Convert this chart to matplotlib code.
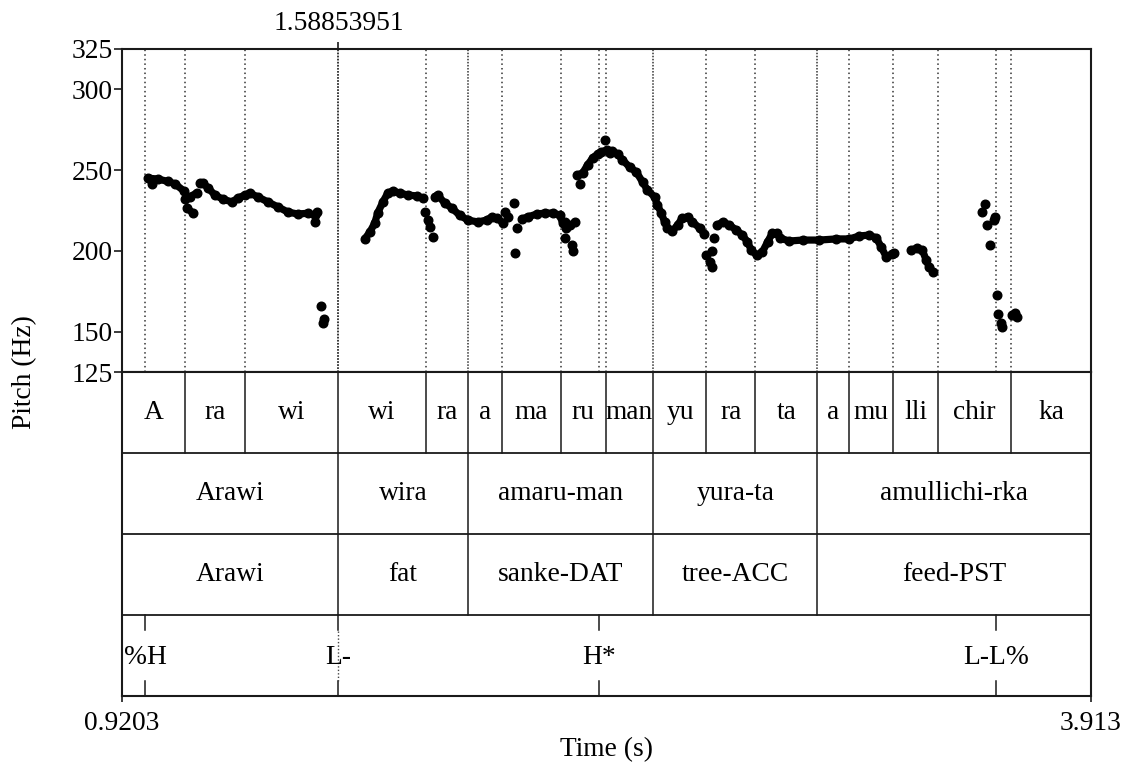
import numpy as np
import matplotlib
matplotlib.use("Agg")
import matplotlib.pyplot as plt

plt.rcParams['font.family'] = ['Liberation Serif', 'DejaVu Serif']

nan = np.nan

# pitch track (s, Hz), nan = break between voiced stretches
track_t = [1.001, 1.031, 1.062, 1.084, 1.112, nan,
           1.115, 1.130, 1.152, nan,
           1.121, 1.139, nan,
           1.161, 1.170, 1.186, 1.207, 1.232, 1.260, 1.278, 1.300, 1.315, 1.340,
           1.371, 1.402, 1.432, 1.463, 1.494, 1.516, 1.522, nan,
           1.670, 1.686, 1.701, 1.710, 1.726, 1.741, 1.757, 1.778, 1.803, 1.831,
           1.849, nan,
           1.886, 1.895, 1.917, 1.939, 1.963, 1.988, 2.019, 2.047, 2.062, 2.080,
           2.096, nan,
           2.155, 2.173, 2.201, 2.226, 2.250, 2.272, 2.281, nan,
           2.327, 2.343, 2.358, 2.374, 2.389, 2.401, 2.417, 2.426, 2.435, 2.451,
           2.466, 2.488, 2.509, 2.528, 2.543, 2.565, 2.574, 2.586, 2.596, 2.605,
           2.620, 2.636, 2.651, 2.667, 2.682, 2.704, 2.719, nan,
           2.759, 2.775, 2.796, 2.818, 2.836, 2.852, 2.864, 2.880, 2.898, 2.914,
           2.929, 2.944, 2.951, 2.981, 3.022, 3.074, 3.126, 3.167, 3.197, 3.228,
           3.250, 3.265, 3.281, 3.299, 3.305, nan,
           3.358, 3.376, 3.392, 3.404, 3.413, 3.426]
track_f = [245.0, 244.5, 243.0, 241.5, 237.0, nan,
           232.0, 233.5, 236.0, nan,
           226.5, 223.5, nan,
           242.0, 242.0, 239.0, 234.6, 232.0, 230.3, 232.7, 234.6, 235.8, 233.4,
           230.3, 227.2, 224.1, 222.8, 223.3, 222.1, 224.1, nan,
           207.4, 211.7, 217.3, 223.5, 230.3, 235.8, 237.1, 235.8, 234.6, 234.0,
           232.7, nan,
           233.4, 234.6, 229.6, 226.5, 222.1, 219.1, 217.9, 219.1, 221.0, 220.4,
           217.3, nan,
           219.7, 221.0, 222.8, 223.4, 223.4, 222.2, 217.3, nan,
           247.0, 248.2, 253.2, 257.5, 260.0, 261.2, 262.5, 260.6, 261.8, 260.0,
           256.3, 251.9, 248.8, 242.6, 237.7, 233.4, 228.4, 223.4, 217.9, 214.2,
           212.3, 216.0, 220.4, 221.0, 217.9, 214.2, 210.5, nan,
           216.0, 217.9, 216.0, 212.9, 209.8, 205.5, 200.5, 197.4, 199.3, 205.5,
           211.1, 211.1, 208.0, 206.1, 206.7, 206.7, 207.4, 207.4, 209.2, 209.8,
           208.0, 202.4, 196.2, 198.1, 198.7, nan,
           200.5, 201.8, 200.5, 194.3, 190.0, 186.9]

# stray pitch points
dot_t = [1.013, 1.516, 1.534, 1.541, 1.544, 1.855, 1.865, 1.871, 1.880,
         2.102, 2.111, 2.130, 2.139, 2.133, 2.287, 2.293, 2.303, 2.318, 2.290,
         2.309, 2.312, 2.334, 2.411, 2.725, 2.735, 2.744, 2.744, 2.750,
         3.586, 3.577, 3.617, 3.612, 3.592, 3.602, 3.623, 3.626, 3.636, 3.639,
         3.679, 3.685, 3.670]
dot_f = [241.5, 217.7, 165.9, 155.3, 157.8, 224.1, 219.1, 214.8, 208.6,
         224.1, 221.0, 229.7, 214.2, 198.7, 217.9, 214.2, 216.0, 217.9, 208.0,
         203.6, 199.9, 241.4, 268.7, 197.4, 193.1, 190.0, 199.9, 208.0,
         229.0, 224.1, 221.0, 219.0, 216.0, 203.6, 172.7, 160.9, 155.3, 152.9,
         161.5, 159.1, 160.3]

t_start, t_end = 0.9203, 3.913
cursor_t = 1.58853951

syl_bounds = [1.1147, 1.2998, 1.5885, 1.8583, 1.9879, 2.0928, 2.2748, 2.4137,
              2.5618, 2.7253, 2.8765, 3.0678, 3.1665, 3.3023, 3.4412, 3.6664]
syl_labels = ['A', 'ra', 'wi', 'wi', 'ra', 'a', 'ma', 'ru', 'man', 'yu', 'ra',
              'ta', 'a', 'mu', 'lli', 'chir', 'ka']
word_bounds = [1.5885, 1.9879, 2.5618, 3.0678]
word_labels = ['Arawi', 'wira', 'amaru-man', 'yura-ta', 'amullichi-rka']
gloss_labels = ['Arawi', 'fat', 'sanke-DAT', 'tree-ACC', 'feed-PST']
tone_t = [0.9913, 1.5885, 2.3936, 3.620]
tone_labels = ['%H', 'L-', 'H*', 'L-L%']

W, H = 1126, 769
fig = plt.figure(figsize=(W / 100, H / 100), dpi=100)
x0, x1 = 122, 1091
ax = fig.add_axes([x0 / W, 1 - 372 / H, (x1 - x0) / W, 323 / H])
tx = fig.add_axes([x0 / W, 1 - 696 / H, (x1 - x0) / W, 324 / H])

ink = '#1a1a1a'
fs = 19.8

# pitch panel
ax.set_xlim(t_start, t_end)
ax.set_ylim(125, 325)
for b in syl_bounds + tone_t:
    dense = b in word_bounds
    ax.axvline(b, color='#333333', lw=1.1,
               ls=(0, (1, 1)) if dense else (0, (1, 2)), zorder=1)
ax.plot(track_t, track_f, '-o', color='black', lw=5.2, ms=6.2,
        solid_capstyle='round', zorder=3)
ax.plot(dot_t, dot_f, 'o', color='black', ms=6.2, zorder=3)
ax.set_yticks([125, 150, 200, 250, 300, 325])
ax.set_xticks([cursor_t])
ax.set_xticklabels(['1.58853951'])
ax.tick_params(axis='x', top=True, bottom=False, labeltop=True,
               labelbottom=False, length=5, width=1.2, color=ink, pad=4,
               labelsize=fs)
ax.tick_params(axis='y', length=6, width=1.2, color=ink, pad=0.5,
               labelsize=fs)
for s in ax.spines.values():
    s.set_linewidth(1.5)
    s.set_color(ink)

# text tiers
tx.set_xlim(t_start, t_end)
tx.set_ylim(0, 4)
for yy in (1, 2, 3):
    tx.axhline(yy, color=ink, lw=1.3)

edges = [t_start] + syl_bounds + [t_end]
for b in syl_bounds:
    tx.plot([b, b], [3, 4], color=ink, lw=1.1)
for i, lab in enumerate(syl_labels):
    tx.text((edges[i] + edges[i + 1]) / 2, 3.5, lab, ha='center', va='center',
            fontsize=fs)

edges = [t_start] + word_bounds + [t_end]
for b in word_bounds:
    tx.plot([b, b], [1, 3], color=ink, lw=1.1)
for i in range(len(word_labels)):
    mid = (edges[i] + edges[i + 1]) / 2
    tx.text(mid, 2.5, word_labels[i], ha='center', va='center', fontsize=fs)
    tx.text(mid, 1.5, gloss_labels[i], ha='center', va='center', fontsize=fs)

for t, lab in zip(tone_t, tone_labels):
    tx.plot([t, t], [0.82, 1], color=ink, lw=1.1)
    tx.plot([t, t], [0, 0.18], color=ink, lw=1.1)
    tx.text(t, 0.47, lab, ha='center', va='center', fontsize=fs)
tx.plot([cursor_t, cursor_t], [0.18, 0.82], color='#444444', lw=1.0,
        ls=(0, (1, 1.5)))

tx.set_yticks([])
tx.set_xticks([t_start, t_end])
tx.set_xticklabels(['0.9203', '3.913'])
tx.tick_params(axis='x', length=4.5, width=1.2, color=ink, pad=6,
               labelsize=fs)
for s in tx.spines.values():
    s.set_linewidth(1.5)
    s.set_color(ink)

fig.text(25 / W, 1 - 372 / H, 'Pitch (Hz)', rotation=90, ha='center',
         va='center', fontsize=fs)
fig.text((x0 + x1) / 2 / W, 1 - 750 / H, 'Time (s)', ha='center',
         va='center', fontsize=fs)

fig.savefig('out.png', dpi=100)
